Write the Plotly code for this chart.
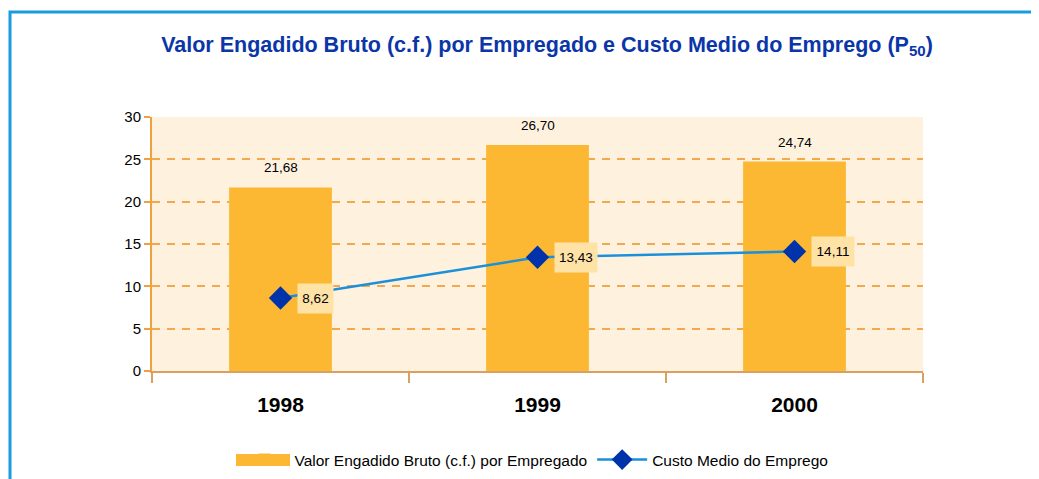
import plotly.graph_objects as go

years = ["1998", "1999", "2000"]
vab = [21.68, 26.70, 24.74]
custo = [8.62, 13.43, 14.11]
bar_name = "Valor Engadido Bruto (c.f.) por Empregado"
line_name = "Custo Medio do Emprego"
title_text = "Valor Engadido Bruto (c.f.) por Empregado e Custo Medio do Emprego (P<sub>50</sub>)"

FONT = "Liberation Sans, Arial, sans-serif"
BAR_COLOR = "#FDB833"
pos = list(range(len(years)))

def fmt(v):
    return f"{v:.2f}".replace(".", ",")

def px_x(p):
    return (p - 152) / 771

def px_y(p):
    return (371 - p) / 254

fig = go.Figure()
fig.add_trace(go.Bar(
    x=pos, y=vab, name=bar_name, width=0.4,
    marker=dict(color=BAR_COLOR, line=dict(width=0)),
))
fig.add_trace(go.Scatter(
    x=pos, y=custo, name=line_name, mode="lines+markers",
    line=dict(color="#1A8FDA", width=2.5),
    marker=dict(symbol="diamond", size=18, color="#0033AA"),
))

annotations = []
for x, v in zip(pos, vab):
    annotations.append(dict(x=x, y=v, text=fmt(v), showarrow=False,
                            yanchor="bottom", yshift=10,
                            font=dict(family=FONT, size=13.5, color="#000000")))
for x, v in zip(pos, custo):
    t = fmt(v)
    annotations.append(dict(x=x, y=v, text=t, showarrow=False,
                            xanchor="left", xshift=16, yshift=0,
                            width=len(t) * 7 + 3, height=25,
                            bgcolor="#FFE2A6", borderpad=2,
                            font=dict(family=FONT, size=13.5, color="#000000")))

fig.update_layout(
    width=1039, height=479,
    margin=dict(l=144, r=124, t=109, b=116, autoexpand=False),
    paper_bgcolor="white",
    plot_bgcolor="#FEF2DF",
    font=dict(family=FONT, color="#000000"),
    title=dict(text=title_text, x=539 / 1039, xanchor="center", y=1 - 36 / 479, yanchor="middle",
               font=dict(family=FONT, size=21.5, color="#0A36A8", weight="bold")),
    showlegend=True,
    legend=dict(orientation="h", x=px_x(534), xanchor="center", y=px_y(460), yanchor="middle",
                font=dict(family=FONT, size=15.5, color="#000000"), traceorder="normal",
                itemwidth=50, bgcolor="rgba(0,0,0,0)"),
    annotations=annotations,
    shapes=[
        dict(type="rect", xref="paper", yref="paper",
             x0=px_x(10), x1=px_x(1060), y0=px_y(500), y1=px_y(12),
             line=dict(color="#1A9BE0", width=3), fillcolor="rgba(0,0,0,0)", layer="below"),
        # wide legend swatch for the bar series
        dict(type="rect", xref="paper", yref="paper",
             x0=px_x(236), x1=px_x(290), y0=px_y(466), y1=px_y(454),
             line=dict(width=0), fillcolor=BAR_COLOR, layer="above"),
    ],
)
fig.update_xaxes(
    range=[-0.5, len(years) - 0.5],
    tickvals=pos, ticktext=years, ticks="", ticklabelstandoff=14,
    showline=True, linecolor="#D9A060", linewidth=2,
    minor=dict(tickvals=[p - 0.5 for p in pos] + [pos[-1] + 0.5], ticks="outside",
               ticklen=10, tickcolor="#D9A060", tickwidth=2, showgrid=False),
    tickfont=dict(family=FONT, size=21, color="#000000", weight="bold"),
    showgrid=False, zeroline=False,
)
fig.update_yaxes(
    range=[0, 30], dtick=5, showline=True, linecolor="#F0A040", linewidth=2,
    ticks="outside", ticklen=6, tickcolor="#F0A040", tickwidth=1.5,
    showgrid=True, gridcolor="#F2A84E", gridwidth=1.5, griddash="8px,7px",
    zeroline=False,
    tickfont=dict(family=FONT, size=15, color="#000000"),
)

fig.write_html("out.html")
